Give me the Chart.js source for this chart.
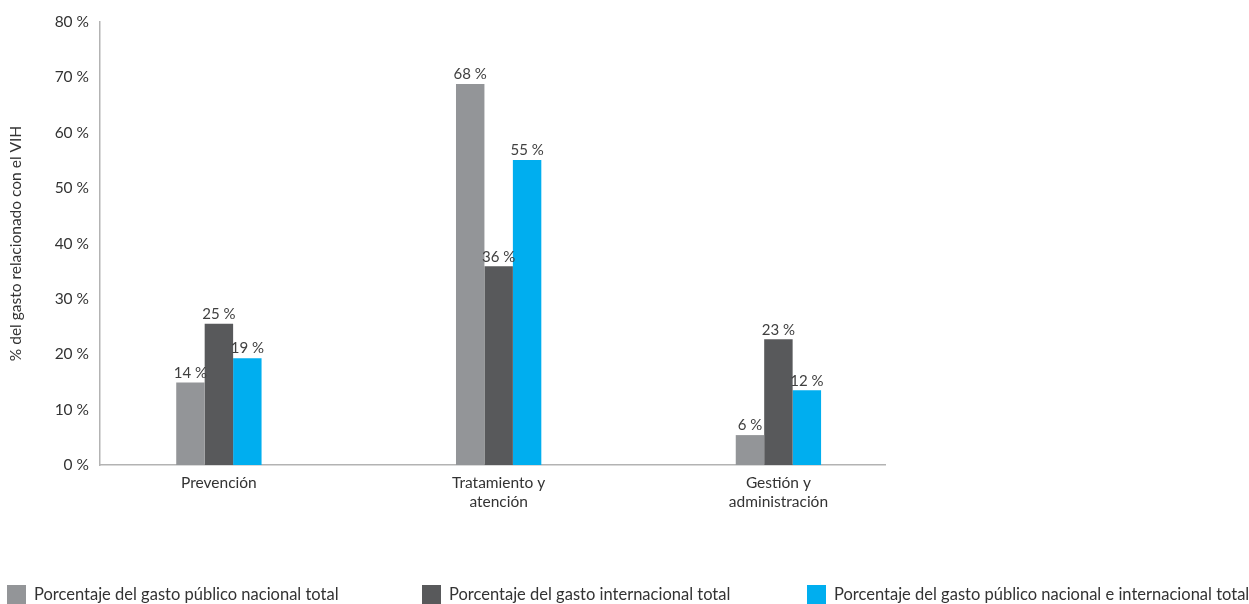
<!DOCTYPE html>
<html>
<head>
  <title>Gasto relacionado con el VIH</title>
  <script src="https://cdn.jsdelivr.net/npm/chart.js"></script>
  <style>
    body { margin: 0; background: #fff; font-family: Lato, "Open Sans", sans-serif; }
    #wrap { position: relative; width: 1249px; height: 604px; }
    #legend { position: absolute; left: 0; top: 584px; width: 1249px; height: 20px; }
    .item { position: absolute; top: 0; display: flex; align-items: center; font-size: 16.5px; color: #333; white-space: nowrap; }
    .box { width: 19px; height: 19px; margin-right: 8px; }
  </style>
</head>
<body>
  <div id="wrap">
    <canvas id="chart" width="1249" height="604"></canvas>
    <div id="legend"></div>
  </div>

  <script>
    // categories (multi-line labels)
    const categories = ['Prevención', ['Tratamiento y', 'atención'], ['Gestión y', 'administración']];

    const seriesNames = [
      'Porcentaje del gasto público nacional total',
      'Porcentaje del gasto internacional total',
      'Porcentaje del gasto público nacional e internacional total'
    ];
    const seriesColors = ['#939598', '#58595b', '#00aeef'];

    // bar heights
    const nacional = [14.9, 68.8, 5.4];
    const internacional = [25.5, 35.9, 22.7];
    const combinado = [19.3, 55.1, 13.5];

    // printed value labels
    const nacionalLabels = ['14 %', '68 %', '6 %'];
    const internacionalLabels = ['25 %', '36 %', '23 %'];
    const combinadoLabels = ['19 %', '55 %', '12 %'];

    const yTicks = [0, 10, 20, 30, 40, 50, 60, 70, 80];

    const seriesValues = [nacional, internacional, combinado];
    const seriesLabels = [nacionalLabels, internacionalLabels, combinadoLabels];

    const FONT = 'Lato, "Open Sans", sans-serif';

    const valueLabels = {
      id: 'valueLabels',
      afterDatasetsDraw(chart) {
        const ctx = chart.ctx;
        ctx.save();
        ctx.font = '15px ' + FONT;
        ctx.fillStyle = '#404040';
        ctx.textAlign = 'center';
        ctx.textBaseline = 'bottom';
        chart.data.datasets.forEach((ds, d) => {
          chart.getDatasetMeta(d).data.forEach((bar, i) => {
            ctx.fillText(seriesLabels[d][i], bar.x, bar.y - 2);
          });
        });
        ctx.restore();
      }
    };

    const chart = new Chart(document.getElementById('chart'), {
      type: 'bar',
      data: {
        datasets: seriesValues.map((vals, d) => ({
          label: seriesNames[d],
          data: vals.map((v, i) => ({ x: i, y: v })),
          backgroundColor: seriesColors[d],
          borderWidth: 0,
          barPercentage: 1,
          categoryPercentage: 0.305
        }))
      },
      options: {
        responsive: false,
        animation: false,
        layout: { padding: { top: 22, right: 364, bottom: 0, left: 0 } },
        plugins: {
          legend: { display: false },
          tooltip: { enabled: false }
        },
        scales: {
          x: {
            type: 'linear',
            offset: false,
            min: -0.425,
            max: 2.381,
            grid: { display: false },
            border: { display: true, color: '#b3b3b3', width: 1.5 },
            afterBuildTicks: s => { s.ticks = categories.map((c, i) => ({ value: i })); },
            afterFit: s => { s.height = 139; },
            ticks: {
              padding: 1,
              autoSkip: false,
              maxRotation: 0,
              color: '#333',
              font: { family: FONT, size: 15.5, lineHeight: 1.22 },
              callback: v => categories[v]
            }
          },
          y: {
            min: 0,
            max: 80,
            grid: { display: false },
            border: { display: true, color: '#b3b3b3', width: 1.5 },
            afterBuildTicks: s => { s.ticks = yTicks.map(v => ({ value: v })); },
            afterFit: s => { s.width = 100; },
            ticks: {
              padding: 3,
              color: '#333',
              font: { family: FONT, size: 15.5 },
              callback: v => v + ' %'
            },
            title: {
              display: true,
              text: '% del gasto relacionado con el VIH',
              color: '#333',
              padding: { top: 7, bottom: 0 },
              font: { family: FONT, size: 15.5 }
            }
          }
        }
      },
      plugins: [valueLabels]
    });

    // legend built from the series arrays
    const legendLeft = [7, 422, 807];
    const legend = document.getElementById('legend');
    seriesNames.forEach((name, d) => {
      const item = document.createElement('div');
      item.className = 'item';
      item.style.left = legendLeft[d] + 'px';
      item.innerHTML = `<span class="box" style="background:${seriesColors[d]}"></span><span>${name}</span>`;
      legend.appendChild(item);
    });
  </script>
</body>
</html>
